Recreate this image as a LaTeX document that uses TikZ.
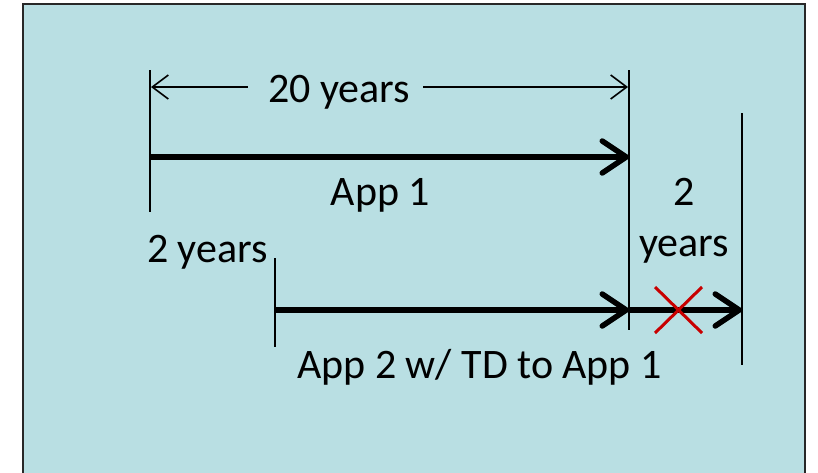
\documentclass[tikz,border=0pt]{standalone}
\usepackage{fontspec}
\setmainfont{Carlito}
\usetikzlibrary{arrows.meta}
\definecolor{panel}{RGB}{185,223,227}
\definecolor{frame}{RGB}{40,40,40}
\definecolor{crossred}{RGB}{200,0,0}
\tikzset{
  lbl/.style={inner sep=0pt, anchor=base, font=\fontsize{42}{51}\selectfont},
  tick/.style={line width=1.5pt, black},
  dimline/.style={line width=1.6pt, black, -{Straight Barb[length=16pt,width=24pt]}},
  span/.style={line width=5.5pt, black, -{Straight Barb[length=24pt,width=32pt,round]}},
  cross/.style={line width=3pt, crossred}
}
\begin{document}
\begin{tikzpicture}[x=1pt,y=-1pt]
  \useasboundingbox (0,0) rectangle (818,472);
  % background panel (its lower edge runs off the page)
  \fill[white] (0,0) rectangle (818,472);
  \draw[fill=panel, draw=frame, line width=2pt] (23,4) -- (23,480) -- (805,480) -- (805,4) -- cycle;

  % time marks
  \coordinate (a1top) at (150,70);  \coordinate (a1bot) at (150,212);
  \coordinate (e1top) at (629,70);  \coordinate (e1bot) at (629,330);
  \coordinate (s2top) at (275,258); \coordinate (s2bot) at (275,347);
  \coordinate (e2top) at (742,113); \coordinate (e2bot) at (742,365);
  \draw[tick] (a1top) -- (a1bot);
  \draw[tick] (e1top) -- (e1bot);
  \draw[tick] (s2top) -- (s2bot);
  \draw[tick] (e2top) -- (e2bot);

  % 20-year dimension
  \node[lbl] (yrs20) at (339,102) {20 years};
  \coordinate (d1) at (151,87);
  \coordinate (d2) at (628,87);
  \draw[dimline] ([xshift=-20pt]yrs20.west |- d1) -- (d1);
  \draw[dimline] ([xshift=13pt]yrs20.east |- d2) -- (d2);

  % application spans
  \coordinate (p1s) at (150,157); \coordinate (p1e) at (629,157);
  \draw[span] (p1s) -- (p1e);
  \node[lbl] (app1) at (380.5,205) {App 1};

  \coordinate (p2s) at (275,310); \coordinate (p2m) at (629,310); \coordinate (p2e) at (742,310);
  \draw[span] (p2s) -- (p2m);
  \draw[span] (p2m) -- (p2e);
  \node[lbl] (app2) at (479.5,378) {App 2 w/ TD to App 1};

  \node[lbl] (yrs2a) at (207.5,262) {2 years};
  \node[lbl] (yrs2b) at (684,205) {2};
  \node[lbl] (yrs2c) at (684,256) {years};

  % struck-out extension
  \coordinate (x1) at (655,287); \coordinate (x2) at (702,333);
  \coordinate (x3) at (655,333); \coordinate (x4) at (702,287);
  \draw[cross] (x1) -- (x2);
  \draw[cross] (x3) -- (x4);
\end{tikzpicture}
\end{document}
